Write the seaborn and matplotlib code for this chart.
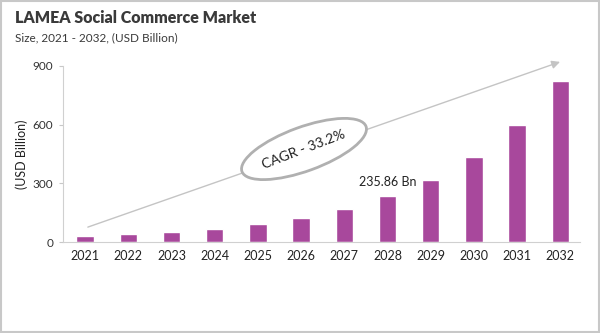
import matplotlib
matplotlib.use("Agg")
import matplotlib.pyplot as plt
from matplotlib.patches import Ellipse, Rectangle
from matplotlib.transforms import IdentityTransform
import seaborn as sns
import pandas as pd

years = ["2021", "2022", "2023", "2024", "2025", "2026",
         "2027", "2028", "2029", "2030", "2031", "2032"]
market_size = [31, 39, 50, 68, 92, 124, 169, 235.86, 316, 434, 598, 824]
y_ticks = [0, 300, 600, 900]

df = pd.DataFrame({"year": years, "size": market_size})

sns.set_theme(style="white")
plt.rcParams["font.family"] = ["Lato", "DejaVu Sans"]

DPI = 100
fig = plt.figure(figsize=(6.0, 3.33), dpi=DPI)
ax = fig.add_axes([0.105, 0.273, 0.862, 0.529])

sns.barplot(data=df, x="year", y="size", color="#a8489c", saturation=1,
            width=0.4, ax=ax)

ax.set_ylim(0, 900)
ax.set_xlim(-0.51, 11.46)
ax.set_yticks(y_ticks)
ax.set_yticklabels([str(t) for t in y_ticks], fontsize=8.5, color="#333333")
ax.tick_params(axis="x", labelsize=9, colors="#222222", length=0, pad=6)
ax.tick_params(axis="y", length=3, width=0.8, color="#c8c8c8", pad=4, left=True)
ax.set_xlabel("")
ax.set_ylabel("(USD Billion)", fontsize=9, color="#222222", labelpad=3)

for side in ["top", "right"]:
    ax.spines[side].set_visible(False)
for side in ["left", "bottom"]:
    ax.spines[side].set_color("#d0d0d0")
    ax.spines[side].set_linewidth(0.8)

# value label for 2028
idx = years.index("2028")
ax.text(idx, market_size[idx] + 40, f"{market_size[idx]:.2f} Bn",
        ha="center", va="bottom", fontsize=9, color="#222222")

# growth arrow
ax.annotate("", xy=(0.961, 1.023), xytext=(0.048, 0.085),
            xycoords="axes fraction", textcoords="axes fraction",
            arrowprops=dict(arrowstyle="-|>", color="#c4c4c4", lw=1.0,
                            mutation_scale=12, shrinkA=0, shrinkB=0),
            annotation_clip=False)

# CAGR badge
H = 333
badge = Ellipse((304, H - 149), width=132, height=44, angle=20,
                transform=IdentityTransform(), facecolor="white",
                edgecolor="#b0b0b0", linewidth=2.0, zorder=5)
fig.patches.append(badge)
fig.text(304 / 600, 1 - 149 / H, "CAGR - 33.2%", rotation=21,
         ha="center", va="center", fontsize=10, color="#222222", zorder=6)

# titles
fig.text(15 / 600, 1 - 18 / H, "LAMEA Social Commerce Market",
         fontsize=11.5, fontweight="heavy", color="#3a3a3a", va="center")
fig.text(15 / 600, 1 - 38 / H, "Size, 2021 - 2032, (USD Billion)",
         fontsize=8.5, color="#3a3a3a", va="center")

# outer frame
fig.patches.append(Rectangle((0.002, 0.003), 0.996, 0.994,
                             transform=fig.transFigure, fill=False,
                             edgecolor="#c8c8c8", linewidth=1.5))

fig.savefig("out.png", dpi=DPI)
